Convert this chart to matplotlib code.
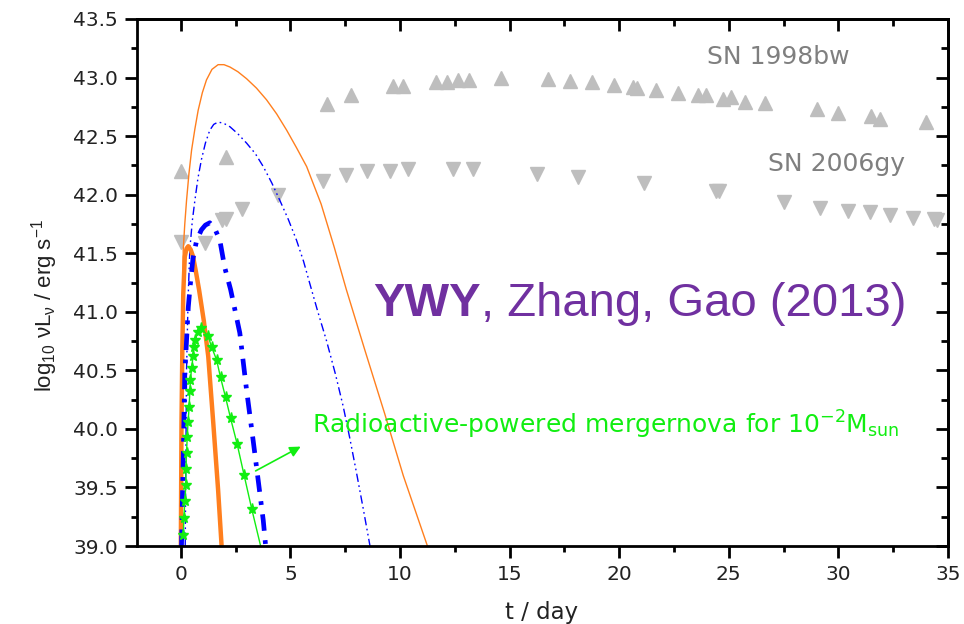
import matplotlib
matplotlib.use("Agg")
import matplotlib.pyplot as plt
from matplotlib.ticker import MultipleLocator

plt.rcParams['font.family'] = ['DejaVu Sans']
plt.rcParams['mathtext.fontset'] = 'custom'
plt.rcParams['mathtext.rm'] = 'DejaVu Sans'
plt.rcParams['mathtext.it'] = 'DejaVu Sans:italic'
plt.rcParams['mathtext.bf'] = 'DejaVu Sans:bold'

# ---- data ----
sn98_t = [0.03, 2.04, 6.68, 7.75, 9.70, 10.15, 11.64, 12.13, 12.66, 13.16, 14.6, 16.75,
          17.76, 18.75, 19.74, 20.65, 20.8, 21.69, 22.66, 23.58, 23.97, 24.73, 25.1,
          25.75, 26.67, 29.03, 30.0, 31.49, 31.89, 34.0]
sn98_L = [42.20, 42.32, 42.77, 42.85, 42.93, 42.93, 42.96, 42.96, 42.98, 42.98, 43.0, 42.99,
          42.97, 42.96, 42.94, 42.92, 42.91, 42.89, 42.87, 42.85, 42.85, 42.82, 42.83,
          42.79, 42.78, 42.73, 42.70, 42.67, 42.65, 42.62]

sn06_t = [0.03, 1.1, 1.86, 2.05, 2.77, 4.44, 6.5, 7.53, 8.48, 9.54, 10.38, 12.4, 13.35,
          16.27, 18.14, 21.11, 24.43, 24.54, 27.5, 29.18, 30.42, 31.43, 32.37, 33.41,
          34.35, 34.5]
sn06_L = [41.60, 41.59, 41.78, 41.79, 41.88, 42.0, 42.12, 42.17, 42.20, 42.20, 42.22, 42.22,
          42.22, 42.18, 42.15, 42.10, 42.03, 42.03, 41.94, 41.89, 41.86, 41.85, 41.83,
          41.80, 41.79, 41.78]

thin_orange_t = [0.0, 0.02, 0.06, 0.11, 0.18, 0.26, 0.37, 0.49, 0.64, 0.79, 0.98, 1.17,
                 1.42, 1.70, 1.97, 2.24, 2.6, 3.0, 3.45, 3.91, 4.37, 4.83, 5.28, 5.74,
                 6.4, 7.0, 7.55, 8.4, 9.3, 10.15, 11.25]
thin_orange_L = [39.0, 39.6, 40.8, 41.53, 41.75, 41.95, 42.18, 42.38, 42.56, 42.72, 42.87,
                 42.98, 43.07, 43.11, 43.11, 43.09, 43.05, 42.99, 42.91, 42.81, 42.69,
                 42.55, 42.40, 42.24, 41.92, 41.55, 41.19, 40.67, 40.13, 39.60, 39.0]

thin_blue_t = [0.2, 0.26, 0.33, 0.41, 0.52, 0.64, 0.78, 0.94, 1.12, 1.32, 1.5, 1.70, 1.95,
               2.24, 2.6, 3.0, 3.4, 3.76, 4.15, 4.52, 4.9, 5.28, 5.6, 5.9, 6.25, 6.65,
               7.05, 7.41, 7.72, 8.02, 8.32, 8.63]
thin_blue_L = [39.0, 40.5, 41.1, 41.53, 41.77, 41.95, 42.14, 42.30, 42.44, 42.55, 42.60,
               42.62, 42.61, 42.58, 42.52, 42.44, 42.35, 42.24, 42.10, 41.95, 41.79, 41.61,
               41.43, 41.23, 41.00, 40.75, 40.47, 40.19, 39.91, 39.62, 39.32, 39.0]

thick_blue_t = [0.03, 0.11, 0.18, 0.34, 0.41, 0.55, 0.72, 0.94, 1.12, 1.32, 1.55, 1.78,
                2.0, 2.27, 2.69, 3.0, 3.30, 3.53, 3.76, 3.87]
thick_blue_L = [39.0, 39.76, 40.47, 41.04, 41.19, 41.45, 41.61, 41.70, 41.74, 41.76, 41.71,
                41.61, 41.38, 41.19, 40.82, 40.33, 39.90, 39.56, 39.22, 39.0]

thick_orange_t = [0.0, 0.03, 0.07, 0.11, 0.18, 0.26, 0.34, 0.45, 0.56, 0.68, 0.83, 1.05,
                  1.25, 1.48, 1.70, 1.86]
thick_orange_L = [39.0, 40.05, 40.7, 41.15, 41.47, 41.54, 41.56, 41.53, 41.47, 41.35,
                  41.19, 40.92, 40.62, 40.05, 39.48, 39.0]

green_t = [0.11, 0.14, 0.18, 0.23, 0.23, 0.26, 0.29, 0.33, 0.38, 0.41, 0.44, 0.49, 0.56,
           0.59, 0.64, 0.79, 0.94, 1.25, 1.40, 1.63, 1.81, 2.04, 2.27, 2.57, 2.88, 3.23]
green_L = [39.09, 39.24, 39.38, 39.52, 39.66, 39.79, 39.93, 40.06, 40.19, 40.32, 40.42,
           40.52, 40.62, 40.70, 40.76, 40.83, 40.86, 40.79, 40.70, 40.59, 40.44, 40.27,
           40.09, 39.87, 39.61, 39.32]
green_end_t = [3.23, 3.64]
green_end_L = [39.32, 39.0]

# ---- figure ----
fig = plt.figure(figsize=(9.64, 6.24), dpi=100)
ax = fig.add_axes([137/964, 1-546/624, (948-137)/964, (546-19)/624])

grey = '#BEBEBE'
orange = '#FF7F1E'
blue = '#0000FF'
green = '#11EE11'

ax.plot(sn98_t, sn98_L, linestyle='none', marker='^', markersize=9.5, color=grey, mec=grey)
ax.plot(sn06_t, sn06_L, linestyle='none', marker='v', markersize=9.5, color=grey, mec=grey)

ax.plot(thin_orange_t, thin_orange_L, color=orange, lw=1.0)
ax.plot(thin_blue_t, thin_blue_L, color=blue, lw=1.0, dashes=[6, 2.5, 1.2, 2.5, 1.2, 2.5])
ax.plot(thick_orange_t, thick_orange_L, color=orange, lw=3.2, solid_capstyle='butt')
ax.plot(thick_blue_t, thick_blue_L, color=blue, lw=3.4, dashes=[3.5, 2.0, 0.8, 2.0])
ax.plot(green_t, green_L, color=green, lw=1.0, marker='*', markersize=8, mec=green, mfc=green)
ax.plot(green_end_t, green_end_L, color=green, lw=1.0)

ax.set_xlim(-2, 35)
ax.set_ylim(39.0, 43.5)

ax.xaxis.set_major_locator(MultipleLocator(5))
ax.xaxis.set_minor_locator(MultipleLocator(2.5))
ax.yaxis.set_major_locator(MultipleLocator(0.5))
ax.yaxis.set_minor_locator(MultipleLocator(0.25))
ax.yaxis.set_major_formatter(plt.FormatStrFormatter('%.1f'))

for s in ax.spines.values():
    s.set_linewidth(2.0)

ax.tick_params(which='both', direction='out', top=False, right=False, width=2.0,
               labelsize=14.5, labelcolor='#222222')
ax.tick_params(which='major', length=8.5, pad=5)
ax.tick_params(which='minor', length=4.5)

# mirrored inward ticks on top and right
axt = ax.secondary_xaxis('top')
axt.xaxis.set_major_locator(MultipleLocator(5))
axt.xaxis.set_minor_locator(MultipleLocator(2.5))
axt.tick_params(which='both', direction='in', width=2.0, labeltop=False)
axt.tick_params(which='major', length=8.5)
axt.tick_params(which='minor', length=5)
axt.spines['top'].set_linewidth(2.0)
axr = ax.secondary_yaxis('right')
axr.yaxis.set_major_locator(MultipleLocator(0.5))
axr.yaxis.set_minor_locator(MultipleLocator(0.25))
axr.tick_params(which='both', direction='in', width=2.0, labelright=False)
axr.tick_params(which='major', length=8.5)
axr.tick_params(which='minor', length=5)
axr.spines['right'].set_linewidth(2.0)

fig.text(542/964, 1-612/624, 't / day', ha='center', va='center', fontsize=16.5,
         color='#222222')
fig.text(45/964, 1-305/624,
         r'log$_{\mathregular{10}}$ νL$_{\mathregular{ν}}$ / erg s$^{\mathregular{-1}}$',
         rotation=90, ha='center', va='center', fontsize=16, color='#222222',
         family='Liberation Sans', math_fontfamily='custom')

ax.text(27.24, 43.12, 'SN 1998bw', ha='center', va='baseline', fontsize=18, color='#7F7F7F')
ax.text(29.9, 42.205, 'SN 2006gy', ha='center', va='baseline', fontsize=18, color='#7F7F7F')

ax.text(8.77, 40.965, 'YWY', ha='left', va='baseline', fontsize=34, color='#7030A0',
        family='Liberation Sans', fontweight='bold')
ax.annotate(', Zhang, Gao (2013)', xy=(1, 0), xycoords=ax.texts[-1], ha='left',
            va='bottom', fontsize=34, color='#7030A0', family='Liberation Sans')

ax.annotate('', xy=(5.58, 39.86), xytext=(3.3, 39.63),
            arrowprops=dict(arrowstyle='-|>', color=green, lw=1.2, mutation_scale=16))
ax.text(5.98, 39.96, r'Radioactive-powered mergernova for 10$^{\mathregular{-2}}$M$_{\mathregular{sun}}$',
        ha='left', va='baseline', fontsize=18, color=green)

fig.savefig('out.png', dpi=100)
